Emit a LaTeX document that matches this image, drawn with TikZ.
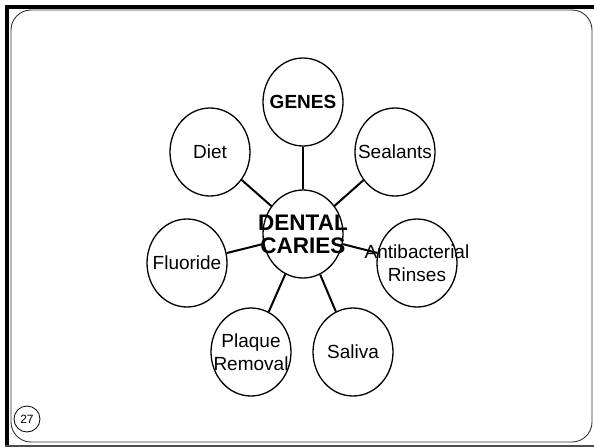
\documentclass[tikz,border=0pt]{standalone}
\usepackage{fontspec}
\setmainfont{Liberation Sans}
\usetikzlibrary{shapes.geometric}
\newcommand{\zb}[1]{\makebox[0pt][c]{#1}}
\begin{document}
\begin{tikzpicture}[x=1pt,y=-1pt,
  bubble/.style={draw=black,line width=1.3pt,ellipse,minimum width=80pt,minimum height=88pt,inner sep=0pt,align=center,font=\fontsize{19}{23}\selectfont},
  link/.style={draw=black,line width=2pt}]
\useasboundingbox (0,0) rectangle (594,447);
\fill[white] (0,0) rectangle (594,447);
% frame
\draw[line width=4pt] (5,7) -- (594,7);
\draw[line width=4pt] (7,5) -- (7,447);
\draw[line width=1.5pt,black!70] (5,446) -- (594,446);
\draw[line width=0.9pt,black!80,rounded corners=20pt] (11,10) rectangle (592,442);
% nodes
\node[bubble] (dc) at (303,234) {\zb{\fontsize{22.5}{28}\selectfont\bfseries DENTAL}\\\zb{\fontsize{22.5}{28}\selectfont\bfseries CARIES}};
\node[bubble] (genes) at (303,102) {\zb{\bfseries GENES}};
\node[bubble] (diet) at (210,152) {\zb{Diet}};
\node[bubble] (seal) at (395,152) {\zb{Sealants}};
\node[bubble] (fluo) at (187,263) {\zb{Fluoride}};
\node[bubble] (anti) at (417,263) {\zb{Antibacterial}\\\zb{Rinses}};
\node[bubble] (plaq) at (251,352) {\zb{Plaque}\\\zb{Removal}};
\node[bubble] (sal) at (353,352) {\zb{Saliva}};
% connectors
\foreach \n in {genes,diet,seal,fluo,anti,plaq,sal}
  \draw[link] (dc) -- (\n);
% slide number
\node[draw=black,line width=0.8pt,circle,minimum size=26pt,inner sep=0pt,font=\fontsize{12}{14}\selectfont] (num) at (27,419) {27};
\end{tikzpicture}
\end{document}
